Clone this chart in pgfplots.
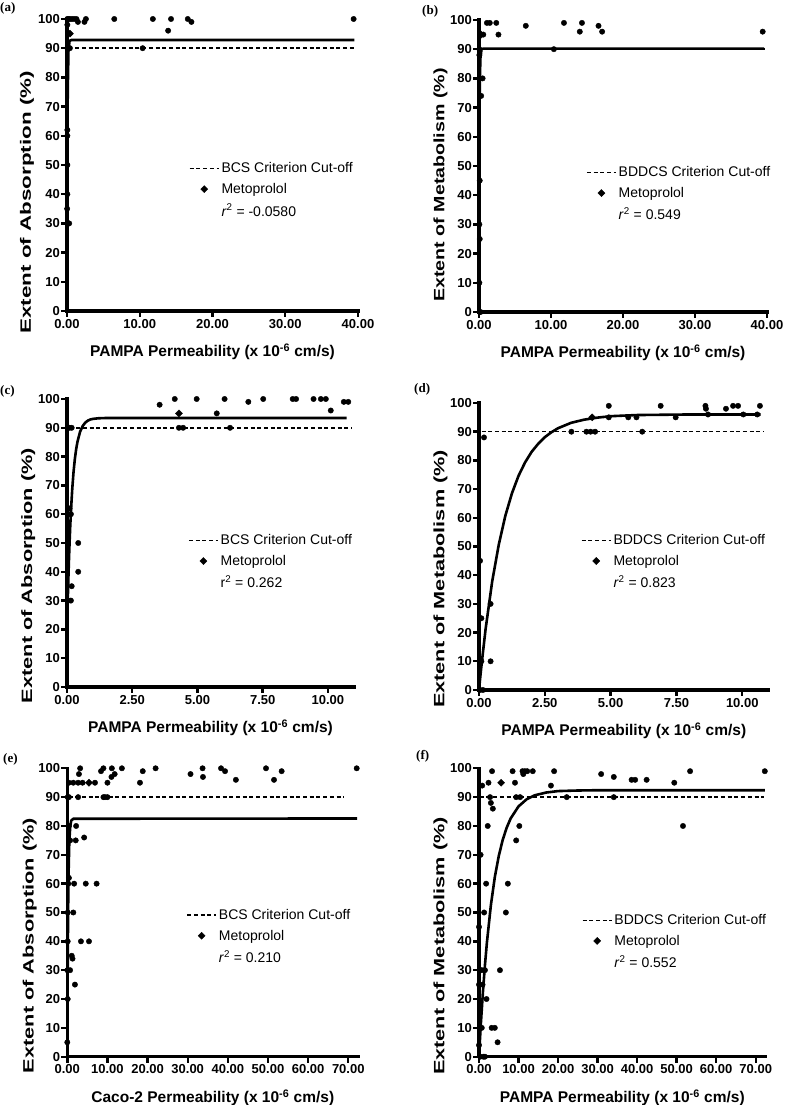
\documentclass[border=0pt]{standalone}
\usepackage{pgfplots}
\pgfplotsset{compat=1.18}
\usepackage{fontspec}
\setmainfont{Liberation Sans}
\newfontfamily\panelfont{Liberation Serif}
\usepackage{graphicx}

\pgfplotsset{
  panel/.style={
    scale only axis, anchor=south west,
    axis x line=bottom, axis y line=left,
    axis line style={draw=none},
    enlargelimits=false, clip=false,
    ymin=0, ymax=100, ytick={0,10,...,100}, xmin=0,
    tick align=outside, major tick length=6pt,
    tick style={draw=none},
    minor tick num=0,
    /pgf/number format/assume math mode=true,
    tick label style={font=\fontsize{13}{15}\selectfont\bfseries},
    yticklabel style={inner sep=1pt},
    xticklabel style={inner sep=2pt, /pgf/number format/fixed, /pgf/number format/fixed zerofill, /pgf/number format/precision=2},
    xlabel style={at={(axis description cs:0.5,0)}, anchor=north, yshift=-33pt, inner sep=0pt, font=\fontsize{15.5}{18}\selectfont\bfseries},
    ylabel style={anchor=center, inner sep=0pt, font=\fontsize{15}{17}\selectfont\bfseries},
    legend style={draw=none, fill=none, anchor=west, font=\fontsize{14}{16}\selectfont, row sep=5pt, inner sep=0pt, outer sep=0pt, nodes={inner sep=2pt}},
    legend cell align=left,
  },
  pts/.style={only marks, mark=*, mark size=2.7pt, black, forget plot},
  fit/.style={line width=2.6pt, black, no markers, line join=round, forget plot},
  cut/.style={line width=1.6pt, black, dash pattern=on 4pt off 2.7pt, forget plot},
  met/.style={only marks, mark=square*, mark size=2.5pt, mark options={rotate=45}, black, forget plot},
  dashleg/.style={line width=1.6pt, black, dash pattern=on 4pt off 2.7pt, legend image code/.code={\draw[##1] (0pt,0pt) -- (29pt,0pt);}},
  diamleg/.style={only marks, mark=square*, mark size=2.5pt, mark options={rotate=45}, black, legend image code/.code={\path[draw=none,fill=none] (0pt,0pt) -- (29pt,0pt); \draw[##1] plot coordinates {(14.5pt,0pt)};}},
}

\newcommand{\legs}[2]{%
  \addlegendimage{dashleg}
  \addlegendentry{#1}
  \addlegendimage{diamleg}
  \addlegendentry{Metoprolol}
  \addlegendimage{empty legend}
  \addlegendentry{#2}
}
% axis frame and ticks, drawn in axis coordinates
\newcommand{\frameticks}[1]{%
  \draw[line width=3.2pt, line cap=rect, line join=miter] (rel axis cs:0,1) -- (rel axis cs:0,0) -- (rel axis cs:1,0);
  \pgfplotsinvokeforeach{0,10,20,30,40,50,60,70,80,90,100}{\draw[line width=2.4pt] (axis cs:0,##1) -- ++(-6pt,0pt);}
  \pgfplotsinvokeforeach{#1}{\draw[line width=2.4pt] (axis cs:##1,0) -- ++(0pt,-6pt);}
}

\begin{document}
\begin{tikzpicture}[x=1pt,y=1pt]
\useasboundingbox (0,0) rectangle (788,1105);

% ---------------- (a)
\begin{axis}[panel, at={(67pt,794pt)}, width=291pt, height=292pt,
  xmax=40, xtick={0,10,20,30,40},
  xlabel={PAMPA Permeability (x 10\textsuperscript{-6} cm/s)},
  ylabel={\scalebox{1.493}[1]{Extent of Absorption (\%)}},
  ylabel style={at={(axis description cs:-0.1375,0.372)}},
  legend style={at={(axis description cs:0.419,0.414)}}]
\frameticks{0,10,20,30,40}
\addplot[cut] coordinates {(0.2,90) (39.7,90)};
\addplot[fit] coordinates {(0.02,0) (0.05,45) (0.1,75) (0.2,89) (0.35,92.5) (0.6,92.8) (39.5,92.8)};
\addplot[pts] coordinates {(0.05,100) (0.2,100) (0.4,100) (0.7,100) (1.0,100) (1.3,100) (1.5,99) (2.4,99) (2.6,100) (6.5,100) (11.8,100) (13.9,96) (14.3,100) (16.6,100) (17.1,99) (39.4,100) (10.4,90) (0.05,98) (0.05,90) (0.4,90) (0.05,62) (0.05,60) (0.05,50) (0.05,40) (0.02,35) (0.05,30) (0.3,30)};
\addplot[met] coordinates {(0.4,95)};
\legs{BCS Criterion Cut-off}{\textit{r}\textsuperscript{2} = -0.0580}
\end{axis}

% ---------------- (b)
\begin{axis}[panel, at={(479pt,793pt)}, width=288pt, height=292pt,
  xmax=40, xtick={0,10,20,30,40},
  xlabel={PAMPA Permeability (x 10\textsuperscript{-6} cm/s)},
  ylabel={\scalebox{1.307}[1]{Extent of Metabolism (\%)}},
  ylabel style={at={(axis description cs:-0.1337,0.435)}},
  legend style={at={(axis description cs:0.372,0.404)}}]
\frameticks{0,10,20,30,40}
\addplot[cut] coordinates {(0.2,90) (39.7,90)};
\addplot[fit] coordinates {(0.02,0) (0.04,40) (0.07,65) (0.12,80) (0.2,87) (0.35,90) (0.6,90.2) (39.6,90.2)};
\addplot[pts] coordinates {(1.1,99) (1.5,99) (2.4,99) (0.6,95) (2.7,95) (6.5,98) (11.8,99) (14.3,99) (14.0,96) (16.6,98) (17.1,96) (39.4,96) (10.4,90) (0.05,90) (0.05,88) (0.1,80) (0.5,80) (0.3,74) (0.1,45) (0.05,30) (0.1,25) (0.05,10) (0.1,0) (0.2,0)};
\addplot[met] coordinates {(0.3,95)};
\legs{BDDCS Criterion Cut-off}{\textit{r}\textsuperscript{2} = 0.549}
\end{axis}

% ---------------- (c)
\begin{axis}[panel, at={(67pt,418pt)}, width=287pt, height=288pt,
  xmax=11, xtick={0,2.5,5,7.5,10},
  xlabel={PAMPA Permeability (x 10\textsuperscript{-6} cm/s)},
  ylabel={\scalebox{1.451}[1]{Extent of Absorption (\%)}},
  ylabel style={at={(axis description cs:-0.1348,0.3865)}},
  legend style={at={(axis description cs:0.422,0.434)}}]
\frameticks{0,2.5,5,7.5,10}
\addplot[cut] coordinates {(0.1,90) (10.9,90)};
\addplot[fit] coordinates {(0,19) (0.025,28.6) (0.05,36.9) (0.075,44.1) (0.1,50.5) (0.125,56.0) (0.15,60.8) (0.2,68.6) (0.25,74.6) (0.3,79.1) (0.35,82.5) (0.4,85.1) (0.5,88.6) (0.6,90.6) (0.7,91.8) (0.8,92.5) (0.9,92.9) (1.0,93.1) (1.2,93.3) (1.5,93.4) (10.72,93.4)};
\addplot[pts] coordinates {(3.55,98) (4.13,100) (4.29,90) (4.45,90) (4.97,100) (5.74,95) (6.04,100) (6.25,90) (6.95,99) (7.52,100) (8.65,100) (8.78,100) (9.45,100) (9.73,100) (9.92,100) (10.11,96) (10.61,99) (10.78,99) (0.02,90) (0.1,90) (0.18,90) (0.1,62) (0.15,60) (0.05,60) (0.43,50) (0.43,40) (0.18,35) (0.05,30) (0.15,30)};
\addplot[met] coordinates {(4.29,95)};
\legs{BCS Criterion Cut-off}{r\textsuperscript{2} = 0.262}
\end{axis}

% ---------------- (d)
\begin{axis}[panel, at={(479pt,415pt)}, width=289.6pt, height=287pt,
  xmax=11, xtick={0,2.5,5,7.5,10},
  xlabel={PAMPA Permeability (x 10\textsuperscript{-6} cm/s)},
  ylabel={\scalebox{1.447}[1]{Extent of Metabolism (\%)}},
  ylabel style={at={(axis description cs:-0.133,0.387)}},
  legend style={at={(axis description cs:0.352,0.446)}}]
\frameticks{0,2.5,5,7.5,10}
\addplot[cut] coordinates {(0.1,90) (10.83,90)};
\addplot[fit] coordinates {(0,0) (0.05,4.7) (0.1,9.1) (0.25,21.2) (0.5,37.8) (0.75,50.6) (1.0,60.7) (1.25,68.5) (1.5,74.6) (1.75,79.3) (2.0,83.0) (2.25,85.8) (2.5,88.1) (2.75,89.8) (3.0,91.2) (3.5,93.1) (4.0,94.2) (4.5,94.9) (5.0,95.4) (6.0,95.8) (7.0,95.9) (8.0,96.0) (10.7,96.0)};
\addplot[pts] coordinates {(0.19,88) (0.04,45) (0.09,25) (0.44,30) (0.44,10) (0.09,10) (0.04,0) (0.15,0) (3.51,90) (4.08,90) (4.24,90) (4.41,90) (4.93,99) (4.93,95) (5.67,95) (5.98,95) (6.2,90) (6.9,99) (7.47,95) (8.6,99) (8.62,98) (8.7,96) (9.38,98) (9.65,99) (9.84,99) (10.04,96) (10.57,96) (10.67,99)};
\addplot[met] coordinates {(4.3,95)};
\legs{BDDCS Criterion Cut-off}{\textit{r}\textsuperscript{2} = 0.823}
\end{axis}

% ---------------- (e)
\begin{axis}[panel, at={(67.3pt,48.3pt)}, width=291pt, height=288.4pt,
  xmax=72.5, xtick={0,10,...,70},
  xlabel={Caco-2 Permeability (x 10\textsuperscript{-6} cm/s)},
  ylabel={\scalebox{1.451}[1]{Extent of Absorption (\%)}},
  ylabel style={at={(axis description cs:-0.129,0.385)}},
  legend style={at={(axis description cs:0.409,0.416)}}]
\frameticks{0,10,20,30,40,50,60,70}
\addplot[cut] coordinates {(0.3,90) (68.8,90)};
\addplot[fit] coordinates {(0,0) (0.1,31) (0.2,50.3) (0.3,62.5) (0.5,74.7) (0.75,80.2) (1.0,81.9) (1.5,82.5) (72.2,82.6)};
\addplot[pts] coordinates {(3.2,100) (2.9,98) (8.4,99) (9.0,100) (11.1,100) (13.6,100) (10.0,95) (11.0,97) (11.8,98) (18.1,95) (18.8,99) (22.0,100) (30.7,98) (33.7,100) (33.8,97) (38.3,100) (39.3,99) (42.0,96) (49.5,100) (51.5,96) (53.4,99) (72.1,100)
 (0.4,95) (1.5,95) (2.7,95) (3.8,95) (6.9,95)
 (0.1,90) (0.4,90) (2.7,90) (9.0,90) (9.4,90) (10.0,90)
 (0.4,80) (2.2,80) (0.7,75) (2.1,75) (4.2,76)
 (0.4,62) (0.25,60) (1.7,60) (4.6,60) (7.3,60)
 (0.1,50) (1.5,50) (0.1,40) (3.4,40) (5.4,40)
 (1.1,35) (1.3,34) (0,30) (0.7,30) (1.9,25) (0.1,20) (0,5)};
\addplot[met] coordinates {(5.4,95)};
\legs{BCS Criterion Cut-off}{\textit{r}\textsuperscript{2} = 0.210}
\end{axis}

% ---------------- (f)
\begin{axis}[panel, at={(479pt,48.3pt)}, width=286.6pt, height=288.4pt,
  xmax=72.5, xtick={0,10,...,70},
  xlabel={PAMPA Permeability (x 10\textsuperscript{-6} cm/s)},
  ylabel={\scalebox{1.447}[1]{Extent of Metabolism (\%)}},
  ylabel style={at={(axis description cs:-0.134,0.384)}},
  legend style={at={(axis description cs:0.359,0.398)}}]
\frameticks{0,10,20,30,40,50,60,70}
\addplot[cut] coordinates {(0.2,90) (72.1,90)};
\addplot[fit] coordinates {(0,0) (0.25,6.2) (0.5,12.1) (1,22.6) (1.5,31.7) (2,39.6) (3,52.5) (4,62.3) (5,69.6) (6,75.2) (7,79.4) (8,82.6) (10,86.8) (12,89.2) (14,90.6) (17,91.6) (20,92.1) (25,92.3) (30,92.4) (72.3,92.4)};
\addplot[pts] coordinates {(3.3,99) (8.5,99) (11.0,99) (11.2,98) (11.6,99) (12.2,99) (13.6,99) (19.0,99) (30.9,98) (34.1,97) (38.6,96) (39.5,96) (42.4,96) (49.4,95) (51.6,80) (53.4,99) (72.3,99)
 (0.8,94) (2.4,95) (9.1,95) (18.2,94)
 (2.8,90) (3.0,88) (3.5,86) (9.4,90) (10.4,90) (22.2,90) (34.1,90)
 (2.2,80) (10.2,80) (9.4,75) (0.4,70) (1.8,60) (7.3,60) (6.8,50) (1.3,50) (0,45) (5.3,30) (1.5,30) (0.7,30) (0,25) (0.9,25) (1.9,20) (0.7,10) (3.2,10) (4.0,10) (4.7,5) (0,4) (0.3,0) (1.1,0) (1.5,0)};
\addplot[met] coordinates {(5.6,95)};
\legs{BDDCS Criterion Cut-off}{\textit{r}\textsuperscript{2} = 0.552}
\end{axis}

% panel letters
\node[anchor=north west, inner sep=0pt, font=\panelfont\bfseries\fontsize{13}{13}\selectfont] at (0,1103) {(a)};
\node[anchor=north west, inner sep=0pt, font=\panelfont\bfseries\fontsize{13}{13}\selectfont] at (422,1100) {(b)};
\node[anchor=north west, inner sep=0pt, font=\panelfont\bfseries\fontsize{13}{13}\selectfont] at (0,720) {(c)};
\node[anchor=north west, inner sep=0pt, font=\panelfont\bfseries\fontsize{13}{13}\selectfont] at (414,722) {(d)};
\node[anchor=north west, inner sep=0pt, font=\panelfont\bfseries\fontsize{13}{13}\selectfont] at (3,352) {(e)};
\node[anchor=north west, inner sep=0pt, font=\panelfont\bfseries\fontsize{13}{13}\selectfont] at (416,355) {(f)};
\end{tikzpicture}
\end{document}
